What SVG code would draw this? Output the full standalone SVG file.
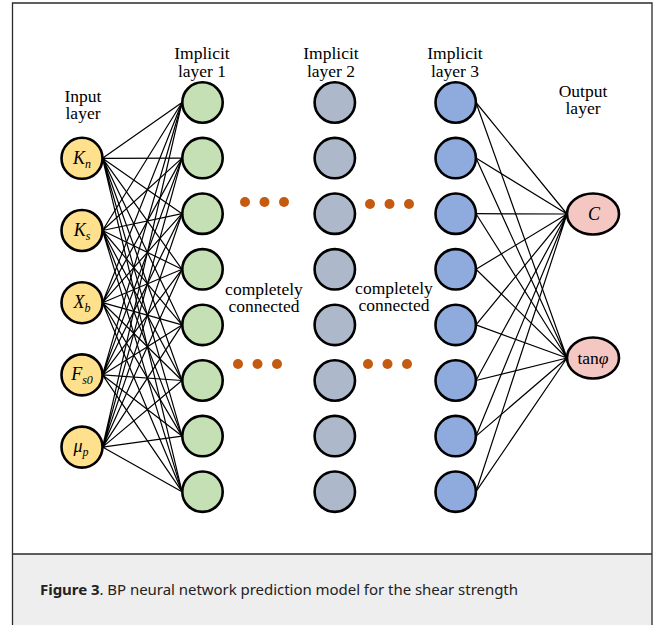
<svg xmlns="http://www.w3.org/2000/svg" width="656" height="625" viewBox="0 0 656 625">
  <style>
    .frame { fill: none; stroke: #2b2b2b; stroke-width: 1.3; }
    .node { stroke: #000; stroke-width: 2.6; }
    .in { fill: #FFE08C; }
    .h1 { fill: #C5E0B4; }
    .h2 { fill: #ADB9CA; }
    .h3 { fill: #8FAADC; }
    .out { fill: #F4C7C3; }
    .link { fill: none; stroke: #000; stroke-width: 1.2; }
    .dot { fill: #C55A11; }
    .lbl { font-family: "Liberation Serif", "Times New Roman", serif; font-size: 17.5px; fill: #000; text-anchor: middle; }
    .var { font-family: "Liberation Serif", "Times New Roman", serif; font-size: 18px; font-style: italic; fill: #000; text-anchor: middle; }
    .sub { font-size: 12px; }
    .cap { font-family: "Noto Sans", "Open Sans", sans-serif; font-size: 15px; fill: #222; }
  </style>

  <!-- frame and caption band -->
  <rect x="12.5" y="554" width="639.5" height="75" fill="#EEEEEE"/>
  <path class="frame" d="M12.5 630 V3 H652 V630 M12.5 554 H652"/>

  <!-- layer titles (two-line labels) -->
  <g id="titles">
    <text class="lbl" x="83" y="102">Input<tspan x="83" dy="17">layer</tspan></text>
    <text class="lbl" x="202" y="59">Implicit<tspan x="202" dy="18">layer 1</tspan></text>
    <text class="lbl" x="331" y="59">Implicit<tspan x="331" dy="18">layer 2</tspan></text>
    <text class="lbl" x="455" y="59">Implicit<tspan x="455" dy="18">layer 3</tspan></text>
    <text class="lbl" x="583" y="97">Output<tspan x="583" dy="17">layer</tspan></text>
  </g>

  <!-- connectors -->
  <g id="connectors" class="link">
    <path d="M102.5 158.3 L182 102.5 M102.5 158.3 L182 158.1 M102.5 158.3 L182 213.7 M102.5 158.3 L182 269.3 M102.5 158.3 L182 324.9 M102.5 158.3 L182 380.5 M102.5 158.3 L182 436.1 M102.5 158.3 L182 491.7"/>
    <path d="M102.5 230.5 L182 102.5 M102.5 230.5 L182 158.1 M102.5 230.5 L182 213.7 M102.5 230.5 L182 269.3 M102.5 230.5 L182 324.9 M102.5 230.5 L182 380.5 M102.5 230.5 L182 436.1 M102.5 230.5 L182 491.7"/>
    <path d="M102.5 302.7 L182 102.5 M102.5 302.7 L182 158.1 M102.5 302.7 L182 213.7 M102.5 302.7 L182 269.3 M102.5 302.7 L182 324.9 M102.5 302.7 L182 380.5 M102.5 302.7 L182 436.1 M102.5 302.7 L182 491.7"/>
    <path d="M102.5 374.9 L182 102.5 M102.5 374.9 L182 158.1 M102.5 374.9 L182 213.7 M102.5 374.9 L182 269.3 M102.5 374.9 L182 324.9 M102.5 374.9 L182 380.5 M102.5 374.9 L182 436.1 M102.5 374.9 L182 491.7"/>
    <path d="M102.5 447.1 L182 102.5 M102.5 447.1 L182 158.1 M102.5 447.1 L182 213.7 M102.5 447.1 L182 269.3 M102.5 447.1 L182 324.9 M102.5 447.1 L182 380.5 M102.5 447.1 L182 436.1 M102.5 447.1 L182 491.7"/>
    <path d="M476 102.5 L567 214 M476 158.1 L567 214 M476 213.7 L567 214 M476 269.3 L567 214 M476 324.9 L567 214 M476 380.5 L567 214 M476 436.1 L567 214 M476 491.7 L567 214"/>
    <path d="M476 102.5 L567 358 M476 158.1 L567 358 M476 213.7 L567 358 M476 269.3 L567 358 M476 324.9 L567 358 M476 380.5 L567 358 M476 436.1 L567 358 M476 491.7 L567 358"/>
  </g>

  <!-- input layer -->
  <g id="in-Kn"><circle class="node in" cx="82" cy="158.3" r="20.5"/><text class="var" x="82" y="164">K<tspan class="sub" dy="4">n</tspan></text></g>
  <g id="in-Ks"><circle class="node in" cx="82" cy="230.5" r="20.5"/><text class="var" x="82" y="236">K<tspan class="sub" dy="4">s</tspan></text></g>
  <g id="in-Xb"><circle class="node in" cx="82" cy="302.7" r="20.5"/><text class="var" x="82" y="308">X<tspan class="sub" dy="4">b</tspan></text></g>
  <g id="in-Fs0"><circle class="node in" cx="82" cy="374.9" r="20.5"/><text class="var" x="82" y="380">F<tspan class="sub" dy="4">s0</tspan></text></g>
  <g id="in-mup"><circle class="node in" cx="82" cy="447.1" r="20.5"/><text class="var" x="81" y="452">μ<tspan class="sub" dy="4">p</tspan></text></g>

  <!-- implicit layer 1 -->
  <g id="h1-1"><circle class="node h1" cx="202.5" cy="102.5" r="20.2"/></g>
  <g id="h1-2"><circle class="node h1" cx="202.5" cy="158.1" r="20.2"/></g>
  <g id="h1-3"><circle class="node h1" cx="202.5" cy="213.7" r="20.2"/></g>
  <g id="h1-4"><circle class="node h1" cx="202.5" cy="269.3" r="20.2"/></g>
  <g id="h1-5"><circle class="node h1" cx="202.5" cy="324.9" r="20.2"/></g>
  <g id="h1-6"><circle class="node h1" cx="202.5" cy="380.5" r="20.2"/></g>
  <g id="h1-7"><circle class="node h1" cx="202.5" cy="436.1" r="20.2"/></g>
  <g id="h1-8"><circle class="node h1" cx="202.5" cy="491.7" r="20.2"/></g>

  <!-- implicit layer 2 -->
  <g id="h2-1"><circle class="node h2" cx="334.8" cy="102.5" r="20.2"/></g>
  <g id="h2-2"><circle class="node h2" cx="334.8" cy="158.1" r="20.2"/></g>
  <g id="h2-3"><circle class="node h2" cx="334.8" cy="213.7" r="20.2"/></g>
  <g id="h2-4"><circle class="node h2" cx="334.8" cy="269.3" r="20.2"/></g>
  <g id="h2-5"><circle class="node h2" cx="334.8" cy="324.9" r="20.2"/></g>
  <g id="h2-6"><circle class="node h2" cx="334.8" cy="380.5" r="20.2"/></g>
  <g id="h2-7"><circle class="node h2" cx="334.8" cy="436.1" r="20.2"/></g>
  <g id="h2-8"><circle class="node h2" cx="334.8" cy="491.7" r="20.2"/></g>

  <!-- implicit layer 3 -->
  <g id="h3-1"><circle class="node h3" cx="455.7" cy="102.5" r="20.2"/></g>
  <g id="h3-2"><circle class="node h3" cx="455.7" cy="158.1" r="20.2"/></g>
  <g id="h3-3"><circle class="node h3" cx="455.7" cy="213.7" r="20.2"/></g>
  <g id="h3-4"><circle class="node h3" cx="455.7" cy="269.3" r="20.2"/></g>
  <g id="h3-5"><circle class="node h3" cx="455.7" cy="324.9" r="20.2"/></g>
  <g id="h3-6"><circle class="node h3" cx="455.7" cy="380.5" r="20.2"/></g>
  <g id="h3-7"><circle class="node h3" cx="455.7" cy="436.1" r="20.2"/></g>
  <g id="h3-8"><circle class="node h3" cx="455.7" cy="491.7" r="20.2"/></g>

  <!-- output layer -->
  <g id="out-C"><ellipse class="node out" cx="593" cy="214" rx="26" ry="20.5"/><text class="var" x="594" y="220">C</text></g>
  <g id="out-tan"><ellipse class="node out" cx="593" cy="358" rx="26" ry="20.5"/><text class="lbl" x="593" y="364">tan<tspan font-style="italic">φ</tspan></text></g>

  <!-- ellipsis dots between layers -->
  <g id="dots">
    <circle class="dot" cx="245" cy="202" r="5"/>
    <circle class="dot" cx="264.5" cy="202" r="5"/>
    <circle class="dot" cx="284" cy="202" r="5"/>
    <circle class="dot" cx="370" cy="204" r="5"/>
    <circle class="dot" cx="389.5" cy="204" r="5"/>
    <circle class="dot" cx="409" cy="204" r="5"/>
    <circle class="dot" cx="238" cy="364" r="5"/>
    <circle class="dot" cx="257.5" cy="364" r="5"/>
    <circle class="dot" cx="277" cy="364" r="5"/>
    <circle class="dot" cx="368" cy="364" r="5"/>
    <circle class="dot" cx="387.5" cy="364" r="5"/>
    <circle class="dot" cx="407" cy="364" r="5"/>
  </g>

  <!-- notes -->
  <g id="notes">
    <text class="lbl" x="264" y="295">completely<tspan x="264" dy="17">connected</tspan></text>
    <text class="lbl" x="394" y="294">completely<tspan x="394" dy="17">connected</tspan></text>
  </g>

  <!-- caption -->
  <text class="cap" x="40" y="595" textLength="478" lengthAdjust="spacing"><tspan font-weight="bold">Figure 3</tspan>. BP neural network prediction model for the shear strength</text>
</svg>
